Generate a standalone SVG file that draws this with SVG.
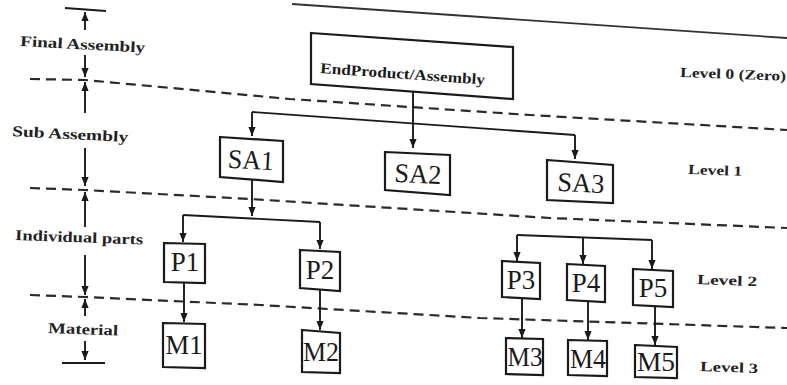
<svg xmlns="http://www.w3.org/2000/svg" width="787" height="385" viewBox="0 0 787 385">
<style>
  .box{fill:#fff;stroke:#1a1a1a;stroke-width:2.2;stroke-linejoin:miter}
  .ln{fill:none;stroke:#1a1a1a;stroke-width:1.9}
  .dash{fill:none;stroke:#2a2a2a;stroke-width:2.2;stroke-dasharray:10 6}
  .edge{fill:none;stroke:#333;stroke-width:1.8}
  .nt{font-family:"Liberation Serif",serif;font-size:27px;fill:#1a1a1a;text-anchor:middle;dominant-baseline:central}
  .lab{font-family:"Liberation Serif",serif;font-size:15px;font-weight:bold;fill:#222}
  .lev{font-family:"Liberation Serif",serif;font-size:14px;font-weight:bold;fill:#222}
</style>
<defs>
  <marker id="ah" viewBox="0 0 10 8" refX="10" refY="4" markerWidth="9" markerHeight="9" markerUnits="userSpaceOnUse" orient="auto">
    <path d="M0,0 L10,4 L0,8 z" fill="#1a1a1a"/>
  </marker>
</defs>
<rect width="787" height="385" fill="#fff"/>
<path class="edge" d="M292,4 Q560,22 787,38"/>
<g id="dividers">
  <path class="dash" d="M30,79 L85,80 L290,99 L530,115 L787,130"/>
  <path class="dash" d="M30,188 L85,190 L250,199 L550,218 L787,228"/>
  <path class="dash" d="M30,295 L85,297 L260,305 L480,318 L787,328"/>
</g>
<g id="axis">
  <path class="ln" d="M65,8 L106,11"/>
  <path class="ln" d="M85,30 L85,12" marker-end="url(#ah)"/>
  <path class="ln" d="M85,55 L85,77" marker-end="url(#ah)"/>
  <path class="ln" d="M85,113 L85,82" marker-end="url(#ah)"/>
  <path class="ln" d="M85,148 L85,186" marker-end="url(#ah)"/>
  <path class="ln" d="M85,227 L85,192" marker-end="url(#ah)"/>
  <path class="ln" d="M85,255 L85,295" marker-end="url(#ah)"/>
  <path class="ln" d="M85,316 L85,299" marker-end="url(#ah)"/>
  <path class="ln" d="M85,341 L85,360" marker-end="url(#ah)"/>
  <path class="ln" d="M62,363 L105,363"/>
</g>
<g id="stage-labels">
  <text class="lab" x="20" y="46" textLength="125" lengthAdjust="spacingAndGlyphs" transform="rotate(3 20 46)">Final Assembly</text>
  <text class="lab" x="12" y="136" textLength="116" lengthAdjust="spacingAndGlyphs" transform="rotate(3 12 136)">Sub Assembly</text>
  <text class="lab" x="15" y="240" textLength="128" lengthAdjust="spacingAndGlyphs" transform="rotate(2 15 240)">Individual parts</text>
  <text class="lab" x="48" y="333" textLength="70" lengthAdjust="spacingAndGlyphs" transform="rotate(2 48 333)">Material</text>
</g>
<g id="level-labels">
  <text class="lev" x="680" y="77" textLength="106" lengthAdjust="spacingAndGlyphs" transform="rotate(2 680 77)">Level 0 (Zero)</text>
  <text class="lev" x="688" y="174" textLength="54" lengthAdjust="spacingAndGlyphs" transform="rotate(2 688 174)">Level 1</text>
  <text class="lev" x="697" y="284" textLength="60" lengthAdjust="spacingAndGlyphs" transform="rotate(2 697 284)">Level 2</text>
  <text class="lev" x="700" y="371" textLength="58" lengthAdjust="spacingAndGlyphs" transform="rotate(2 700 371)">Level 3</text>
</g>
<g id="connectors">
  <path class="ln" d="M413,92 L413,148" marker-end="url(#ah)"/>
  <path class="ln" d="M252,112 L575,135"/>
  <path class="ln" d="M252,112 L252,136" marker-end="url(#ah)"/>
  <path class="ln" d="M575,135 L575,159" marker-end="url(#ah)"/>
  <path class="ln" d="M252,178 L252,216" marker-end="url(#ah)"/>
  <path class="ln" d="M183,215 L320,222"/>
  <path class="ln" d="M183,215 L183,242" marker-end="url(#ah)"/>
  <path class="ln" d="M320,222 L320,249" marker-end="url(#ah)"/>
  <path class="ln" d="M184,282 L184,322" marker-end="url(#ah)"/>
  <path class="ln" d="M320,290 L320,330" marker-end="url(#ah)"/>
  <path class="ln" d="M517,235 L652,240"/>
  <path class="ln" d="M517,235 L517,261" marker-end="url(#ah)"/>
  <path class="ln" d="M583,237.5 L583,264" marker-end="url(#ah)"/>
  <path class="ln" d="M652,240 L652,269" marker-end="url(#ah)"/>
  <path class="ln" d="M522,298 L522,338" marker-end="url(#ah)"/>
  <path class="ln" d="M588,302 L588,340" marker-end="url(#ah)"/>
  <path class="ln" d="M655,307 L655,345" marker-end="url(#ah)"/>
</g>
<g id="endproduct">
  <polygon class="box" points="311,33 513,47 513,99 311,84"/>
  <text x="320" y="73" font-family="Liberation Serif, serif" font-size="15" font-weight="bold" fill="#1a1a1a" textLength="165" lengthAdjust="spacingAndGlyphs" transform="rotate(4 320 73)">EndProduct/Assembly</text>
</g>
<g id="SA1"><polygon class="box" points="220,137 283,141 283,182 220,177"/><text class="nt" x="251" y="160" textLength="46" lengthAdjust="spacingAndGlyphs" transform="rotate(3 251 160)">SA1</text></g>
<g id="SA2"><polygon class="box" points="385,152 450,155 450,195 385,190"/><text class="nt" x="418" y="174" textLength="47" lengthAdjust="spacingAndGlyphs" transform="rotate(3 418 174)">SA2</text></g>
<g id="SA3"><polygon class="box" points="547,160 613,165 613,203 547,200"/><text class="nt" x="581" y="183" textLength="47" lengthAdjust="spacingAndGlyphs" transform="rotate(3 581 183)">SA3</text></g>
<g id="P1"><polygon class="box" points="164,243 205,244 205,283 164,282"/><text class="nt" x="185" y="262">P1</text></g>
<g id="P2"><polygon class="box" points="300,250 340,252 340,291 300,288"/><text class="nt" x="320" y="270">P2</text></g>
<g id="P3"><polygon class="box" points="502,261 540,263 540,299 502,297"/><text class="nt" x="521" y="280">P3</text></g>
<g id="P4"><polygon class="box" points="567,264 605,266 605,302 567,300"/><text class="nt" x="586" y="283">P4</text></g>
<g id="P5"><polygon class="box" points="633,269 673,271 673,307 633,305"/><text class="nt" x="653" y="288">P5</text></g>
<g id="M1"><polygon class="box" points="163,323 205,324 205,368 163,367"/><text class="nt" x="184" y="345" textLength="37" lengthAdjust="spacingAndGlyphs">M1</text></g>
<g id="M2"><polygon class="box" points="302,330 340,333 340,373 302,372"/><text class="nt" x="321" y="352" textLength="36" lengthAdjust="spacingAndGlyphs">M2</text></g>
<g id="M3"><polygon class="box" points="506,338 543,339 543,375 506,374"/><text class="nt" x="525" y="357" textLength="35" lengthAdjust="spacingAndGlyphs">M3</text></g>
<g id="M4"><polygon class="box" points="568,340 607,341 607,376 568,375"/><text class="nt" x="588" y="359" textLength="36" lengthAdjust="spacingAndGlyphs">M4</text></g>
<g id="M5"><polygon class="box" points="635,345 677,347 677,378 635,377"/><text class="nt" x="656" y="362" textLength="38" lengthAdjust="spacingAndGlyphs">M5</text></g>
</svg>
